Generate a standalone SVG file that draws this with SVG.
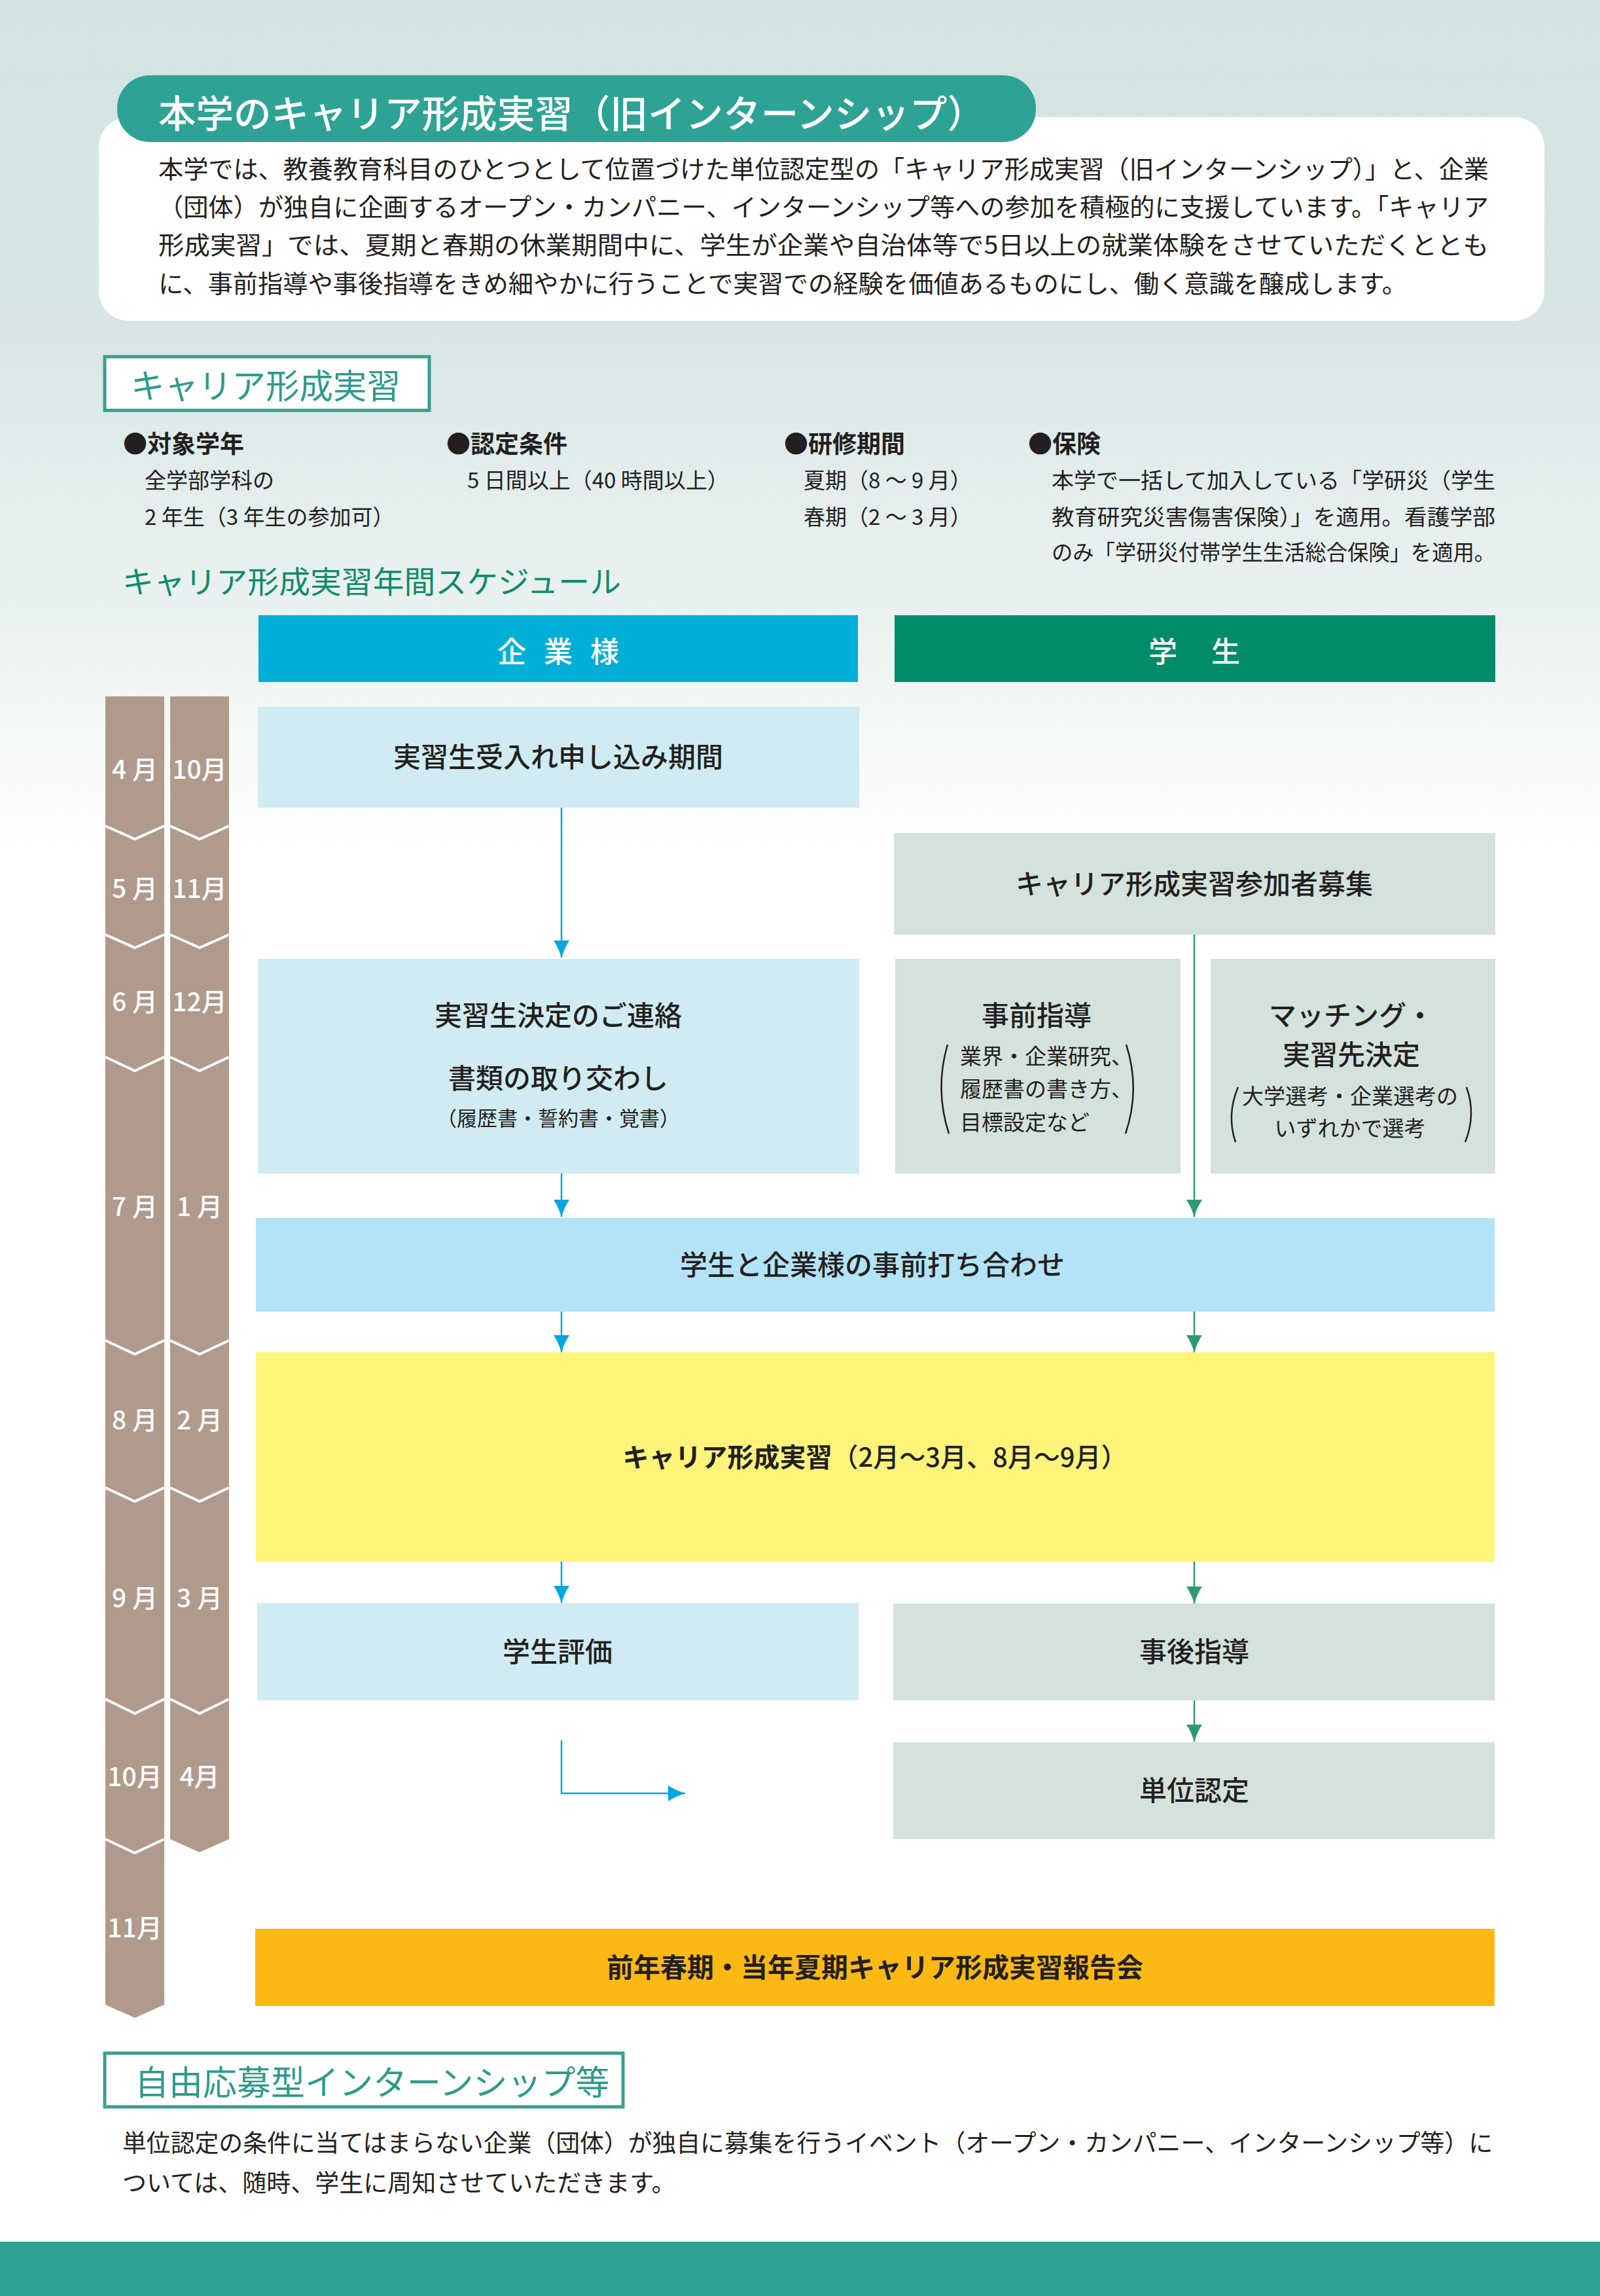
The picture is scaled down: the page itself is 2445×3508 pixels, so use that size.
<svg xmlns="http://www.w3.org/2000/svg" width="2445" height="3508" viewBox="0 0 2445 3508">
<defs>
<linearGradient id="bg" x1="0" y1="0" x2="0" y2="1300" gradientUnits="userSpaceOnUse">
<stop offset="0" stop-color="#d2e3e3"/>
<stop offset="0.35" stop-color="#d6e6e5"/>
<stop offset="0.75" stop-color="#ecf3f2"/>
<stop offset="1" stop-color="#ffffff"/>
</linearGradient>
<marker id="ac" viewBox="0 -13 28 26" refX="26" refY="0" markerWidth="28" markerHeight="26" markerUnits="userSpaceOnUse" orient="auto"><path d="M0,-12 Q12,-4 27,0 Q12,4 0,12 Z" fill="#00a7e1"/></marker>
<marker id="ag" viewBox="0 -13 28 26" refX="26" refY="0" markerWidth="28" markerHeight="26" markerUnits="userSpaceOnUse" orient="auto"><path d="M0,-12 Q12,-4 27,0 Q12,4 0,12 Z" fill="#2e9a73"/></marker>
<style>
text{font-family:'Noto Sans CJK JP','Noto Sans',sans-serif;fill:#231f20}
.c{text-anchor:middle}
.mon{fill:#fff;font-size:39px;font-weight:500;text-anchor:middle}
.b42{font-size:42px;font-weight:500}
.s33{font-size:33px}
.hd{font-size:37px;font-weight:bold}
.teal{fill:#2e9b8c}
.cy{stroke:#00a7e1;stroke-width:2.5;fill:none;marker-end:url(#ac)}
.gr{stroke:#2e9a73;stroke-width:2.5;fill:none;marker-end:url(#ag)}
.sep{stroke:#fff;stroke-width:4;fill:none}
.par{stroke:#231f20;stroke-width:2.5;fill:none}
.hbox{fill:#fff;stroke:#3a9e92;stroke-width:5}
</style>
</defs>
<rect width="2445" height="3508" fill="#fff"/>
<rect width="2445" height="1300" fill="url(#bg)"/>
<rect y="3425" width="2445" height="83" fill="#2ea395"/>

<g id="intro">
<rect x="151" y="179" width="2209" height="311" rx="45" fill="#fff"/>
<rect x="179" y="115" width="1404" height="102" rx="50" fill="#2ea395"/>
<text x="242" y="195" font-size="58" font-weight="500" style="fill:#fff" textLength="1263" lengthAdjust="spacingAndGlyphs">本学のキャリア形成実習（旧インターンシップ）</text>
<text x="242" y="272" font-size="38" textLength="2033" lengthAdjust="spacingAndGlyphs">本学では、教養教育科目のひとつとして位置づけた単位認定型の「キャリア形成実習（旧インターンシップ）」と、企業</text>
<text x="242" y="330" font-size="38" textLength="2033" lengthAdjust="spacingAndGlyphs">（団体）が独自に企画するオープン・カンパニー、インターンシップ等への参加を積極的に支援しています。「キャリア</text>
<text x="242" y="388" font-size="38" textLength="2033" lengthAdjust="spacingAndGlyphs">形成実習」では、夏期と春期の休業期間中に、学生が企業や自治体等で5日以上の就業体験をさせていただくととも</text>
<text x="242" y="447" font-size="38" textLength="1908" lengthAdjust="spacingAndGlyphs">に、事前指導や事後指導をきめ細やかに行うことで実習での経験を価値あるものにし、働く意識を醸成します。</text>
</g>

<g id="heading-career">
<rect class="hbox" x="160" y="545" width="496" height="82"/>
<text x="200" y="609" font-size="52" class="teal" textLength="412" lengthAdjust="spacingAndGlyphs">キャリア形成実習</text>
</g>

<g id="info">
<text class="hd" x="188" y="692">●対象学年</text>
<text class="s33" x="221" y="746">全学部学科の</text>
<text class="s33" x="221" y="802">2 年生（3 年生の参加可）</text>
<text class="hd" x="682" y="692">●認定条件</text>
<text class="s33" x="714" y="746">5 日間以上（40 時間以上）</text>
<text class="hd" x="1198" y="692">●研修期間</text>
<text class="s33" x="1228" y="746">夏期（8 ～ 9 月）</text>
<text class="s33" x="1228" y="802">春期（2 ～ 3 月）</text>
<text class="hd" x="1571" y="692">●保険</text>
<text class="s33" x="1607" y="746" textLength="678" lengthAdjust="spacingAndGlyphs">本学で一括して加入している「学研災（学生</text>
<text class="s33" x="1607" y="802" textLength="678" lengthAdjust="spacingAndGlyphs">教育研究災害傷害保険）」を適用。看護学部</text>
<text class="s33" x="1607" y="856" textLength="678" lengthAdjust="spacingAndGlyphs">のみ「学研災付帯学生生活総合保険」を適用。</text>
</g>

<g id="schedule-title">
<text x="187" y="906" font-size="47" style="fill:#118b69" textLength="762" lengthAdjust="spacingAndGlyphs">キャリア形成実習年間スケジュール</text>
</g>

<g id="col-company">
<rect x="395" y="940" width="916" height="102" fill="#00afd7"/>
<text class="c" x="853" y="1012" font-size="44" font-weight="500" word-spacing="17" style="fill:#fff">企 業 様</text>
</g>
<g id="col-student">
<rect x="1367" y="940" width="918" height="102" fill="#008c69"/>
<text class="c" x="1825" y="1012" font-size="44" font-weight="500" word-spacing="42" style="fill:#fff">学 生</text>
</g>

<g id="months">
<polygon points="161,1064 251,1064 251,3063 206,3083 161,3063" fill="#b09a8c"/>
<polygon points="260,1064 350,1064 350,2810 305,2830 260,2810" fill="#b09a8c"/>
<polyline class="sep" points="161,1262 206,1282 251,1262"/>
<polyline class="sep" points="260,1262 305,1282 350,1262"/>
<polyline class="sep" points="161,1428 206,1448 251,1428"/>
<polyline class="sep" points="260,1428 305,1448 350,1428"/>
<polyline class="sep" points="161,1615 206,1636 251,1615"/>
<polyline class="sep" points="260,1615 305,1636 350,1615"/>
<polyline class="sep" points="161,2048 206,2069 251,2048"/>
<polyline class="sep" points="260,2048 305,2069 350,2048"/>
<polyline class="sep" points="161,2273 206,2294 251,2273"/>
<polyline class="sep" points="260,2273 305,2294 350,2273"/>
<polyline class="sep" points="161,2596 206,2618 251,2596"/>
<polyline class="sep" points="260,2596 305,2618 350,2596"/>
<polyline class="sep" points="161,2810 206,2831 251,2810"/>
<text class="mon" x="206" y="1190">4 月</text><text class="mon" x="305" y="1190">10月</text>
<text class="mon" x="206" y="1372">5 月</text><text class="mon" x="305" y="1372">11月</text>
<text class="mon" x="206" y="1545">6 月</text><text class="mon" x="305" y="1545">12月</text>
<text class="mon" x="206" y="1858">7 月</text><text class="mon" x="305" y="1858">1 月</text>
<text class="mon" x="206" y="2184">8 月</text><text class="mon" x="305" y="2184">2 月</text>
<text class="mon" x="206" y="2456">9 月</text><text class="mon" x="305" y="2456">3 月</text>
<text class="mon" x="206" y="2729">10月</text><text class="mon" x="305" y="2729">4月</text>
<text class="mon" x="206" y="2960">11月</text>
</g>

<g id="n-application">
<rect x="394" y="1080" width="919" height="154" fill="#d0ebf1"/>
<text class="c b42" x="853" y="1172">実習生受入れ申し込み期間</text>
</g>
<g id="n-recruit">
<rect x="1366" y="1273" width="919" height="155" fill="#d3e2dc"/>
<text class="c b42" x="1825" y="1366">キャリア形成実習参加者募集</text>
</g>
<g id="n-decision">
<rect x="394" y="1465" width="919" height="328" fill="#d0ebf1"/>
<text class="c b42" x="853" y="1567">実習生決定のご連絡</text>
<text class="c b42" x="853" y="1663">書類の取り交わし</text>
<text class="c" x="853" y="1720" font-size="31">（履歴書・誓約書・覚書）</text>
</g>
<g id="n-preguide">
<rect x="1368" y="1465" width="436" height="328" fill="#d3e2dc"/>
<text class="c b42" x="1584" y="1567">事前指導</text>
<path class="par" d="M1448,1596 Q1428,1664 1450,1732"/>
<path class="par" d="M1721,1596 Q1743,1664 1720,1732"/>
<text class="s33" x="1467" y="1626">業界・企業研究、</text>
<text class="s33" x="1467" y="1676">履歴書の書き方、</text>
<text class="s33" x="1467" y="1727">目標設定など</text>
</g>
<g id="n-matching">
<rect x="1850" y="1465" width="435" height="328" fill="#d3e2dc"/>
<text class="c b42" x="2065" y="1567">マッチング・</text>
<text class="c b42" x="2065" y="1627">実習先決定</text>
<path class="par" d="M1892,1661 Q1874,1703 1888,1745"/>
<path class="par" d="M2241,1661 Q2256,1703 2239,1745"/>
<text class="c s33" x="2063" y="1687">大学選考・企業選考の</text>
<text class="c s33" x="2063" y="1736">いずれかで選考</text>
</g>
<g id="n-meeting">
<rect x="391" y="1861" width="1893" height="143" fill="#b3e3f7"/>
<text class="c b42" x="1333" y="1948">学生と企業様の事前打ち合わせ</text>
</g>
<g id="n-internship">
<rect x="391" y="2066" width="1893" height="320" fill="#fef47a"/>
<text class="c" x="1337" y="2241" font-size="40" font-weight="500"><tspan font-weight="bold">キャリア形成実習</tspan>（2月～3月、8月～9月）</text>
</g>
<g id="n-evaluation">
<rect x="393" y="2449" width="919" height="149" fill="#d0ebf1"/>
<text class="c b42" x="852" y="2539">学生評価</text>
</g>
<g id="n-postguide">
<rect x="1365" y="2450" width="919" height="148" fill="#d3e2dc"/>
<text class="c b42" x="1825" y="2539">事後指導</text>
</g>
<g id="n-credit">
<rect x="1365" y="2662" width="919" height="148" fill="#d3e2dc"/>
<text class="c b42" x="1825" y="2751">単位認定</text>
</g>
<g id="n-report">
<rect x="390" y="2947" width="1894" height="118" fill="#fdb913"/>
<text class="c" x="1337" y="3021" font-size="41" font-weight="bold">前年春期・当年夏期キャリア形成実習報告会</text>
</g>

<g id="connectors">
<line class="cy" x1="858" y1="1234" x2="858" y2="1463"/>
<line class="cy" x1="858" y1="1793" x2="858" y2="1859"/>
<line class="cy" x1="858" y1="2004" x2="858" y2="2066"/>
<line class="cy" x1="858" y1="2386" x2="858" y2="2449"/>
<polyline class="cy" stroke-width="3" points="858,2659 858,2740 1047,2740"/>
<line class="gr" x1="1825" y1="1428" x2="1825" y2="1859"/>
<line class="gr" x1="1825" y1="2004" x2="1825" y2="2066"/>
<line class="gr" x1="1825" y1="2386" x2="1825" y2="2450"/>
<line class="gr" x1="1825" y1="2598" x2="1825" y2="2661"/>
</g>

<g id="heading-free">
<rect class="hbox" x="160" y="3137" width="792" height="82"/>
<text x="206" y="3201" font-size="52" class="teal">自由応募型インターンシップ等</text>
</g>
<g id="free-text">
<text x="187" y="3288" font-size="37" textLength="2094" lengthAdjust="spacingAndGlyphs">単位認定の条件に当てはまらない企業（団体）が独自に募集を行うイベント（オープン・カンパニー、インターンシップ等）に</text>
<text x="187" y="3349" font-size="37">ついては、随時、学生に周知させていただきます。</text>
</g>
</svg>
